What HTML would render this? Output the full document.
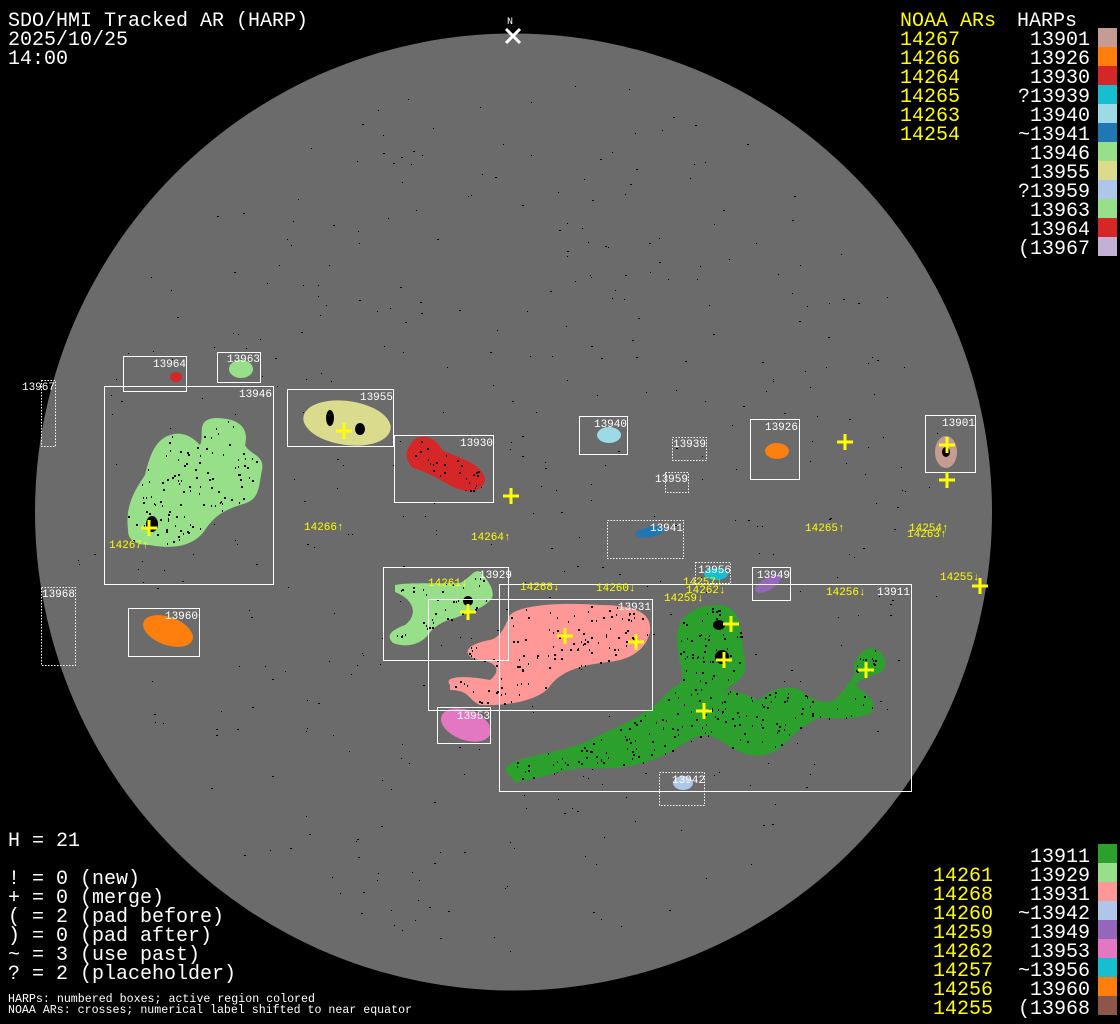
<!DOCTYPE html>
<html><head><meta charset="utf-8"><style>
html,body{margin:0;padding:0;background:#000;width:1120px;height:1024px;overflow:hidden}
svg{display:block}
.m{font-family:"Liberation Mono","DejaVu Sans Mono",monospace}
</style></head><body>
<svg width="1120" height="1024" viewBox="0 0 1120 1024" xmlns="http://www.w3.org/2000/svg">
<rect width="1120" height="1024" fill="#000"/>
<circle cx="513.5" cy="512" r="478.5" fill="#6b6b6b"/>
<g id="dots" fill="#000"></g>
<!-- blobs -->
<g stroke="none" id="blobs">
<path fill="#98df8a" d="M128,530 C125,505 135,490 145,475 C150,455 155,440 170,435 C185,430 195,440 200,445 C205,435 195,420 215,418 C235,418 250,425 245,445 C250,455 265,455 262,470 C258,490 260,500 240,505 C225,510 215,515 205,530 C195,545 175,550 150,545 C135,545 128,540 128,530 Z"/>
<ellipse cx="176" cy="377" rx="6" ry="5" fill="#d62728"/>
<ellipse cx="241" cy="369" rx="12" ry="9" fill="#98df8a"/>
<ellipse cx="347" cy="423" rx="44" ry="22" transform="rotate(8 347 423)" fill="#dbdb8d"/>
<path fill="#d62728" d="M410,445 C415,433 435,434 442,450 C458,458 480,462 485,478 C485,492 468,493 455,488 C440,480 428,472 413,468 C405,460 405,452 410,445 Z"/>
<ellipse cx="609" cy="435" rx="12" ry="8" fill="#9edae5"/>
<ellipse cx="650" cy="532" rx="15" ry="5" transform="rotate(-10 650 532)" fill="#1f77b4"/>
<ellipse cx="777" cy="451" rx="12" ry="8" fill="#ff7f0e"/>
<ellipse cx="946" cy="452" rx="11" ry="16" fill="#c49c94"/>
<ellipse cx="168" cy="631" rx="26" ry="14" transform="rotate(20 168 631)" fill="#ff7f0e"/>
<path fill="#98df8a" d="M395,585 C410,582 440,584 460,583 C470,578 475,568 480,572 C488,580 495,590 492,598 C485,608 470,612 455,618 C440,622 433,628 428,635 C420,645 405,648 393,643 C385,635 392,630 405,625 C418,615 415,600 395,592 Z"/>
<path fill="#ff9896" d="M450,685 C442,675 470,676 490,680 C500,672 500,662 478,660 C463,656 462,645 490,640 C502,637 505,625 510,615 C520,605 560,602 600,605 C640,605 652,615 650,632 C645,652 628,660 608,662 C580,665 560,672 550,686 C540,700 510,706 480,705 C468,700 470,690 450,690 Z"/>
<path fill="#2ca02c" d="M505,770 C510,755 560,755 590,740 C620,725 650,715 670,690 C690,680 680,670 678,650 C672,620 690,605 720,605 C745,608 740,640 745,660 C748,680 730,685 725,690 C740,690 755,700 760,700 C770,688 790,685 800,690 C815,700 820,705 835,700 C845,690 850,680 855,675 C850,665 860,650 870,648 C885,650 890,665 880,673 C870,675 860,680 855,685 C860,690 880,700 872,712 C860,720 840,718 820,718 C800,725 790,740 780,748 C760,762 740,755 720,740 C700,730 690,740 670,752 C645,765 620,770 590,768 C560,768 540,780 515,782 Z"/>
<ellipse cx="716" cy="574" rx="12" ry="6" fill="#17becf"/>
<ellipse cx="768" cy="584" rx="14" ry="6" transform="rotate(-30 768 584)" fill="#9467bd"/>
<ellipse cx="466" cy="725" rx="26" ry="15" transform="rotate(20 466 725)" fill="#e377c2"/>
<ellipse cx="683" cy="783" rx="10" ry="7" fill="#aec7e8"/>
</g>
<g id="specks" fill="#000"></g>
<!-- spots -->
<g fill="#000">
<ellipse cx="719" cy="625" rx="6" ry="5"/><ellipse cx="722" cy="657" rx="7" ry="7"/>
<ellipse cx="468" cy="601" rx="5" ry="5"/><ellipse cx="152" cy="524" rx="6" ry="8"/>
<ellipse cx="330" cy="418" rx="4" ry="8"/><ellipse cx="360" cy="429" rx="5" ry="6"/>
<ellipse cx="946" cy="452" rx="4" ry="5"/>
</g>
<!-- boxes -->
<g fill="none" stroke="#fff" stroke-width="1">
<rect x="499.5" y="584.5" width="412" height="207"/>
<rect x="428.5" y="599.5" width="224" height="111"/>
<rect x="383.5" y="567.5" width="125" height="93"/>
<rect x="437.5" y="707.5" width="53" height="36"/>
<rect x="752.5" y="567.5" width="38" height="33"/>
<rect x="128.5" y="608.5" width="71" height="48"/>
<rect x="104.5" y="386.5" width="169" height="198"/>
<rect x="123.5" y="356.5" width="63" height="35"/>
<rect x="217.5" y="352.5" width="43" height="30"/>
<rect x="287.5" y="389.5" width="106" height="57"/>
<rect x="394.5" y="435.5" width="99" height="67"/>
<rect x="579.5" y="416.5" width="48" height="38"/>
<rect x="750.5" y="419.5" width="49" height="60"/>
<rect x="925.5" y="415.5" width="50" height="57"/>
</g>
<g fill="none" stroke="#fff" stroke-width="1" stroke-dasharray="1.5 1.5">
<rect x="659.5" y="772.5" width="45" height="33"/>
<rect x="695.5" y="562.5" width="35" height="21"/>
<rect x="41.5" y="587.5" width="34" height="78"/>
<rect x="41.5" y="380.5" width="14" height="66"/>
<rect x="672.5" y="437.5" width="34" height="23"/>
<rect x="665.5" y="472.5" width="23" height="20"/>
<rect x="607.5" y="520.5" width="76" height="38"/>
</g>
<g class="m" font-size="11" fill="#fff" text-anchor="end">
<text x="910" y="595">13911</text><text x="651" y="610">13931</text><text x="512" y="578">13929</text>
<text x="490" y="719">13953</text><text x="790" y="578">13949</text><text x="198" y="619">13960</text>
<text x="75" y="597">13968</text><text x="272" y="397">13946</text><text x="186" y="367">13964</text>
<text x="260" y="362">13963</text><text x="55" y="390">13967</text><text x="393" y="400">13955</text>
<text x="493" y="446">13930</text><text x="627" y="427">13940</text><text x="798" y="430">13926</text>
<text x="975" y="426">13901</text><text x="706" y="447">13939</text><text x="688" y="482">13959</text>
<text x="683" y="531">13941</text><text x="705" y="783">13942</text><text x="731" y="573">13956</text>
</g>
<g class="m" font-size="11" fill="#ff0">
<text x="304" y="530">14266↑</text><text x="471" y="540">14264↑</text><text x="109" y="548">14267↑</text>
<text x="805" y="531">14265↑</text><text x="909" y="531">14254↑</text><text x="907" y="537">14263↑</text>
<text x="940" y="580">14255↓</text><text x="428" y="586">14261↓</text><text x="520" y="590">14268↓</text>
<text x="596" y="591">14260↓</text><text x="683" y="585">14257↓</text><text x="686" y="593">14262↓</text>
<text x="664" y="601">14259↓</text><text x="826" y="595">14256↓</text>
</g>
<g stroke="#ff0" stroke-width="3" id="crosses"></g>
<!-- N marker -->
<text class="m" x="507" y="24" font-size="10" fill="#fff">N</text>
<path d="M506,29 L520,43 M520,29 L506,43" stroke="#fff" stroke-width="3"/>
<!-- title -->
<g class="m" font-size="20" fill="#fff">
<text x="8" y="26">SDO/HMI Tracked AR (HARP)</text>
<text x="8" y="45">2025/10/25</text>
<text x="8" y="64">14:00</text>
<text x="8" y="846">H = 21</text>
<text x="8" y="884">! = 0 (new)</text>
<text x="8" y="903">+ = 0 (merge)</text>
<text x="8" y="922">( = 2 (pad before)</text>
<text x="8" y="941">) = 0 (pad after)</text>
<text x="8" y="960">~ = 3 (use past)</text>
<text x="8" y="979">? = 2 (placeholder)</text>
</g>
<g class="m" font-size="12" fill="#fff">
<text x="8" y="1002" textLength="307" lengthAdjust="spacingAndGlyphs">HARPs: numbered boxes; active region colored</text>
<text x="8" y="1013" textLength="404" lengthAdjust="spacingAndGlyphs">NOAA ARs: crosses; numerical label shifted to near equator</text>
</g>
<g class="m" font-size="20" id="legend"></g>
</svg>
<script>
(function(){
var NS="http://www.w3.org/2000/svg";
function el(p,t,a,txt){var e=document.createElementNS(NS,t);for(var k in a)e.setAttribute(k,a[k]);if(txt!=null)e.textContent=txt;p.appendChild(e);return e;}
var d=document.getElementById('dots');var s=12345;function r(){s=(s*1103515245+12345)%2147483648;return s/2147483648;}
for(var i=0;i<450;i++){var a=r()*6.2832,rr=Math.sqrt(r())*440;var x=513+rr*Math.cos(a),y=512+rr*Math.sin(a);
el(d,'rect',{x:x.toFixed(0),y:y.toFixed(0),width:r()<0.3?2:1,height:1});}
// specks inside blob paths
var sp=document.getElementById('specks');
var paths=document.querySelectorAll('#blobs path');
paths.forEach(function(p){var b=p.getBBox();var n=Math.round(b.width*b.height/90);
for(var i=0;i<n;i++){var x=b.x+r()*b.width,y=b.y+r()*b.height;var ok=true;
try{var pt=document.querySelector('svg').createSVGPoint();pt.x=x;pt.y=y;ok=p.isPointInFill(pt);}catch(e){ok=false;}
if(ok)el(sp,'rect',{x:x.toFixed(0),y:y.toFixed(0),width:r()<0.5?2:1,height:2});}});
var c=document.getElementById('crosses');
[[149,528],[344,431],[511,496],[845,442],[947,445],[947,480],[980,586],[468,612],[565,636],[636,642],[731,624],[724,660],[704,711],[866,670]].forEach(function(p){
el(c,'path',{d:'M'+(p[0]-8)+','+p[1]+'h16M'+p[0]+','+(p[1]-8)+'v16'});});
var L=document.getElementById('legend');
el(L,'text',{x:900,y:26,fill:'#ff0'},'NOAA ARs');el(L,'text',{x:1017,y:26,fill:'#fff'},'HARPs');
var top=[['14267','13901','#c49c94'],['14266','13926','#ff7f0e'],['14264','13930','#d62728'],['14265','?13939','#17becf'],['14263','13940','#9edae5'],['14254','~13941','#1f77b4'],['','13946','#98df8a'],['','13955','#dbdb8d'],['','?13959','#aec7e8'],['','13963','#98df8a'],['','13964','#d62728'],['','(13967','#c5b0d5']];
top.forEach(function(t,i){var y=45+i*19;el(L,'text',{x:900,y:y,fill:'#ff0'},t[0]);el(L,'text',{x:1090,y:y,fill:'#fff','text-anchor':'end'},t[1]);el(L,'rect',{x:1098,y:28+i*19,width:19,height:19,fill:t[2]});});
var bot=[['','13911','#2ca02c'],['14261','13929','#98df8a'],['14268','13931','#ff9896'],['14260','~13942','#aec7e8'],['14259','13949','#9467bd'],['14262','13953','#e377c2'],['14257','~13956','#17becf'],['14256','13960','#ff7f0e'],['14255','(13968','#8c564b']];
bot.forEach(function(t,i){var y=862+i*19;el(L,'text',{x:993,y:y,fill:'#ff0','text-anchor':'end'},t[0]);el(L,'text',{x:1090,y:y,fill:'#fff','text-anchor':'end'},t[1]);el(L,'rect',{x:1098,y:844+i*19,width:19,height:19,fill:t[2]});});
})();
</script>
</body></html>
